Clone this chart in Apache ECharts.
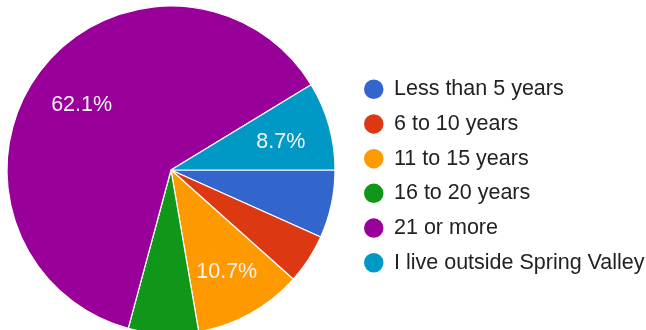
<!DOCTYPE html>
<html>
<head>
<meta charset="utf-8">
<script src="https://cdn.jsdelivr.net/npm/echarts@6/dist/echarts.min.js"></script>
<style>
  html, body { margin: 0; padding: 0; background: #fff; }
  #chart { width: 646px; height: 330px; }
</style>
</head>
<body>
<div id="chart"></div>
<script>
// Years lived in Spring Valley — share of responses (%)
const categories = [
  'Less than 5 years',
  '6 to 10 years',
  '11 to 15 years',
  '16 to 20 years',
  '21 or more',
  'I live outside Spring Valley'
];
const shares = [6.7, 4.9, 10.7, 6.9, 62.1, 8.7];
const colors = ['#3366cc', '#dc3912', '#ff9900', '#109618', '#990099', '#0099c6'];
// slices narrower than this carry no percentage label
const labelMinShare = 8;

const font = '"Liberation Sans", Arial, sans-serif';
const pieData = categories.map((name, i) => ({ name, value: shares[i] }));

const chart = echarts.init(document.getElementById('chart'), null, { renderer: 'canvas' });
chart.setOption({
  animation: false,
  color: colors,
  legend: {
    orient: 'vertical',
    left: 362,
    top: 77.5,
    padding: 0,
    icon: 'circle',
    itemWidth: 21.5,
    itemHeight: 21.5,
    itemGap: 11.2,
    selectedMode: false,
    data: categories,
    textStyle: {
      fontFamily: font,
      fontSize: 21.5,
      lineHeight: 21,
      color: '#222',
      padding: [0, 0, 0, 4.5]
    }
  },
  series: [
    {
      // the slices themselves
      type: 'pie',
      center: [171, 170],
      radius: [0, 164],
      startAngle: 0,
      clockwise: true,
      silent: true,
      itemStyle: { borderColor: '#fff', borderWidth: 1.2 },
      label: { show: false },
      labelLine: { show: false },
      data: pieData
    },
    {
      // transparent ring that positions the percentage labels
      type: 'pie',
      center: [171, 170],
      radius: [56, 164],
      startAngle: 0,
      clockwise: true,
      silent: true,
      itemStyle: { color: 'rgba(0,0,0,0)', borderWidth: 0 },
      label: {
        show: true,
        position: 'inside',
        offset: [1, 3],
        fontFamily: font,
        fontSize: 21.5,
        color: '#f4f4f4',
        formatter: p => (p.value >= labelMinShare ? p.value.toFixed(1) + '%' : '')
      },
      labelLine: { show: false },
      data: pieData
    }
  ]
});
</script>
</body>
</html>
